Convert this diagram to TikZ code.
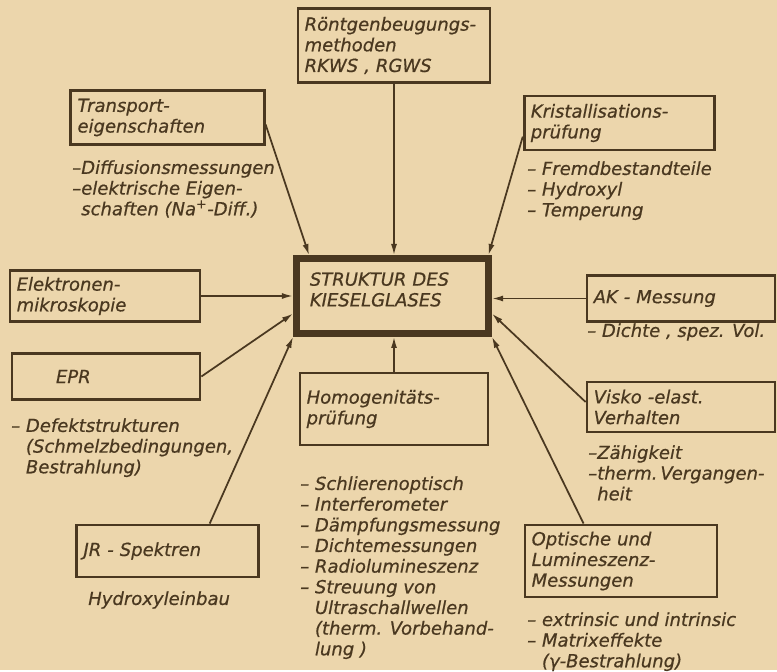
\documentclass[tikz,border=0pt]{standalone}
\usepackage{fontspec}
\setmainfont{DejaVu Sans}[ItalicFeatures={FakeBold=0.6}]
\usetikzlibrary{arrows.meta}
\definecolor{papier}{RGB}{236,214,172}
\definecolor{tinte}{RGB}{74,56,32}
\begin{document}
\begin{tikzpicture}[x=0.75pt,y=-0.75pt,>={Latex[length=8.5pt,width=4.5pt]},
  every node/.style={font=\fontsize{13.5}{15.5}\selectfont\itshape,text=tinte},
  kasten/.style={draw=tinte,line width=2.1pt,inner sep=5pt,align=left},
  liste/.style={anchor=north west,inner sep=0pt,align=left},
  pfeil/.style={draw=tinte,line width=1.3pt,->}]
  \fill[papier](0,0)rectangle(777,670);
  \node[kasten,text width=134pt,minimum height=56pt](roent)at(394,45.5){Röntgenbeugungs-\\methoden\\RKWS , RGWS};
  \node[kasten,text width=135pt,minimum height=41pt](transp)at(167.5,117.5){Transport-\\eigenschaften};
  \node[kasten,text width=133pt,minimum height=40.5pt](krist)at(619.5,123){Kristallisations-\\prüfung};
  \node[kasten,line width=5pt,text width=134pt,minimum height=56pt](kern)at(392.5,296){\hspace*{5pt}STRUKTUR DES\\\hspace*{5pt}KIESELGLASES\\[-5.5pt]\mbox{}};
  \node[kasten,text width=132.5pt,minimum height=36pt](elek)at(105,296){Elektronen-\\mikroskopie};
  \node[kasten,text width=131pt,minimum height=35pt](epr)at(106,376.5){\hspace*{28pt}EPR};
  \node[kasten,text width=131pt,minimum height=54pt](homog)at(394,409){Homogenitäts-\\prüfung};
  \node[kasten,text width=131pt,minimum height=35pt](ak)at(681,298.5){AK - Messung};
  \node[kasten,text width=131pt,minimum height=37.5pt](visko)at(681,407){Visko -elast.\\Verhalten};
  \node[kasten,text width=126pt,minimum height=39pt](jr)at(167.5,551){JR - Spektren};
  \node[kasten,text width=134pt,minimum height=54pt](opt)at(621,561){Optische und\\Lumineszenz-\\Messungen};
  \node[liste](transpL)at(72,160){–Diffusionsmessungen\\–elektrische Eigen-\\\hphantom{–}schaften (Na\textsuperscript{+}-Diff.)};
  \node[liste](kristL)at(527,161){– Fremdbestandteile\\– Hydroxyl\\– Temperung};
  \node[liste](akL)at(587,323){– Dichte , spez. Vol.};
  \node[liste](viskoL)at(588,445){–Zähigkeit\\–therm.\,Vergangen-\\\hphantom{–}heit};
  \node[liste](eprL)at(11,418){– Defektstrukturen\\\hphantom{– }(Schmelzbedingungen,\\\hphantom{– }Bestrahlung)};
  \node[liste](homogL)at(300,476){– Schlierenoptisch\\– Interferometer\\– Dämpfungsmessung\\– Dichtemessungen\\– Radiolumineszenz\\– Streuung von\\\hphantom{– }Ultraschallwellen\\\hphantom{– }(therm. Vorbehand-\\\hphantom{– }lung )};
  \node[liste](jrL)at(88,591){Hydroxyleinbau};
  \node[liste](optL)at(527,612){– extrinsic und intrinsic\\– Matrixeffekte\\\hphantom{– }(γ-Bestrahlung)};
  \draw[pfeil](roent.south)--(roent.south|-kern.north);
  \draw[pfeil](transp.-4)--(kern.154);
  \draw[pfeil](krist.188)--(kern.23);
  \draw[pfeil](elek.east)--(elek.east-|kern.west);
  \draw[pfeil](epr.east)--(kern.190);
  \draw[pfeil](jr.33)--(kern.south west);
  \draw[pfeil](homog.north)--(homog.north|-kern.south);
  \draw[pfeil](ak.west)--(ak.west-|kern.east);
  \draw[pfeil](visko.177)--(kern.-10);
  \draw[pfeil](opt.135)--(kern.south east);
\end{tikzpicture}
\end{document}
